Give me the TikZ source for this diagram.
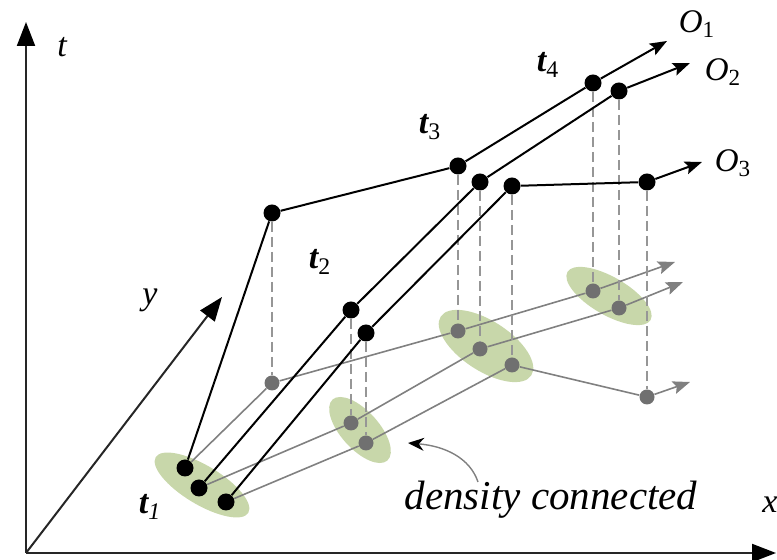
\documentclass[tikz,border=0pt]{standalone}
\usepackage{fontspec}
\setmainfont{Liberation Serif}
\usetikzlibrary{arrows.meta,shapes.geometric}
\definecolor{clusterGreen}{RGB}{200,215,170}
\definecolor{projGray}{RGB}{128,128,128}
\definecolor{dotGray}{RGB}{112,112,112}
\definecolor{dropGray}{RGB}{150,150,150}

\begin{document}
\begin{tikzpicture}[x=0.5pt, y=-0.5pt,
    every node/.style={font=\fontsize{16.5}{18}\selectfont\itshape, inner sep=1pt},
    bdot/.style={circle, fill=black, inner sep=0pt, minimum size=8.5pt},
    gdot/.style={circle, fill=dotGray, inner sep=0pt, minimum size=7.5pt},
    cluster/.style={ellipse, fill=clusterGreen, inner sep=0pt},
    axis/.style={line width=1pt, black!85, -{Triangle[length=12pt, width=9pt, black]}},
    traj/.style={line width=1pt, black},
    proj/.style={line width=0.8pt, projGray},
    drop/.style={line width=0.8pt, dropGray, dash pattern=on 5pt off 2.5pt},
    tip/.style={-{Stealth[length=8.5pt, width=6.5pt, inset=1.5pt]}},
    stamp/.style={font=\fontsize{17}{18}\selectfont\bfseries\itshape}
  ]
    \useasboundingbox (0,0) rectangle (777,560);
    % axes
    \coordinate (orig) at (26,553);
    \coordinate (tax) at (26,22);
    \coordinate (xax) at (776,553);
    \coordinate (yax) at (222,297);
    \draw[axis] (orig) -- (tax);
    \draw[axis] (orig) -- (xax);
    \draw[axis] (orig) -- (yax);
    \node[font=\fontsize{17}{18}\selectfont\itshape] (tlab) at (62,47) {t};
    \node[font=\fontsize{17}{18}\selectfont\itshape] (ylab) at (150,300) {y};
    \node[font=\fontsize{17}{18}\selectfont\itshape] (xlab) at (770,505) {x};
    % density connected clusters
    \node[cluster, minimum width=54pt, minimum height=19.5pt, rotate=-31] (c1) at (202,485) {};
    \node[cluster, minimum width=41pt, minimum height=19pt, rotate=-48] (c2) at (360,430) {};
    \node[cluster, minimum width=54pt, minimum height=25pt, rotate=-33] (c3) at (486,346) {};
    \node[cluster, minimum width=48pt, minimum height=19pt, rotate=-30] (c4) at (609,296) {};
    % objects in space-time
    \node[bdot] (o1t1) at (185,468) {};
    \node[bdot] (o2t1) at (199,488) {};
    \node[bdot] (o3t1) at (226,502) {};
    \node[bdot] (o1t2) at (272,213) {};
    \node[bdot] (o2t2) at (351,310) {};
    \node[bdot] (o3t2) at (366,333) {};
    \node[bdot] (o1t3) at (458,166) {};
    \node[bdot] (o2t3) at (480,182) {};
    \node[bdot] (o3t3) at (512,186) {};
    \node[bdot] (o1t4) at (593,83) {};
    \node[bdot] (o2t4) at (619,91) {};
    \node[bdot] (o3t4) at (647,182) {};
    \coordinate (o1e) at (667,41);
    \coordinate (o2e) at (690,63);
    \coordinate (o3e) at (702,162);
    % projections on the x-y plane
    \node[gdot] (g1t2) at (272,383) {};
    \node[gdot] (g2t2) at (351,423) {};
    \node[gdot] (g3t2) at (366,443) {};
    \node[gdot] (g1t3) at (458,331) {};
    \node[gdot] (g2t3) at (480,349) {};
    \node[gdot] (g3t3) at (512,365) {};
    \node[gdot] (g1t4) at (593,291) {};
    \node[gdot] (g2t4) at (619,308) {};
    \node[gdot] (g3t4) at (647,397) {};
    \coordinate (g1e) at (675,262);
    \coordinate (g2e) at (683,282);
    \coordinate (g3e) at (690,382);
    % projected tracks
    \draw[proj] (o1t1) -- (g1t2) -- (g1t3) -- (g1t4);
    \draw[proj] (o2t1) -- (g2t2) -- (g2t3) -- (g2t4);
    \draw[proj] (o3t1) -- (g3t2) -- (g3t3) -- (g3t4);
    \draw[proj, tip] (g1t4) -- (g1e);
    \draw[proj, tip] (g2t4) -- (g2e);
    \draw[proj, tip] (g3t4) -- (g3e);
    % drop lines
    \foreach \o in {1,2,3}
      \foreach \t in {2,3,4}
        \draw[drop] (o\o t\t) -- (g\o t\t);
    % trajectories
    \draw[traj] (o1t1) -- (o1t2) -- (o1t3) -- (o1t4);
    \draw[traj] (o2t1) -- (o2t2) -- (o2t3) -- (o2t4);
    \draw[traj] (o3t1) -- (o3t2) -- (o3t3) -- (o3t4);
    \draw[traj, tip] (o1t4) -- (o1e);
    \draw[traj, tip] (o2t4) -- (o2e);
    \draw[traj, tip] (o3t4) -- (o3e);
    % labels
    \node (o1lab) at (697,24) {O\textsubscript{\upshape 1}};
    \node (o2lab) at (723,72) {O\textsubscript{\upshape 2}};
    \node (o3lab) at (733,163) {O\textsubscript{\upshape 3}};
    \node[stamp] (t1lab) at (150,507) {t\textsubscript{\mdseries 1}};
    \node[stamp] (t2lab) at (320,262) {t\textsubscript{\mdseries\upshape 2}};
    \node[stamp] (t3lab) at (430,127) {t\textsubscript{\mdseries\upshape 3}};
    \node[stamp] (t4lab) at (548,65) {t\textsubscript{\mdseries\upshape 4}};
    \node[font=\fontsize{20.5}{24}\selectfont\itshape] (dens) at (551,500) {density connected};
    \coordinate (densfrom) at (478,482);
    \coordinate (densto) at (408,443);
    \draw[projGray, line width=0.7pt, -{Stealth[length=8pt, width=6.5pt, black]}]
      (densfrom) .. controls (470,458) and (445,446) .. (densto);
\end{tikzpicture}
\end{document}
